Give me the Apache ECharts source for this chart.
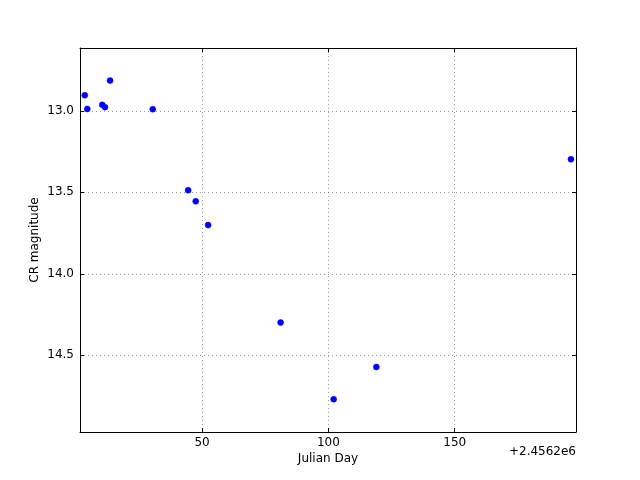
<!DOCTYPE html>
<html>
<head>
<meta charset="utf-8">
<script src="https://cdn.jsdelivr.net/npm/echarts@6/dist/echarts.min.js"></script>
<style>html,body{margin:0;padding:0;background:#fff}#c{width:640px;height:480px}</style>
</head>
<body>
<div id="c"></div>
<script>
// Julian Day offset from 2456200
const jd = [3.6, 4.6, 10.5, 11.6, 13.6, 30.5, 44.5, 47.5, 52.4, 81.1, 102.1, 119.0, 196.0];
const mag = [12.904, 12.988, 12.963, 12.977, 12.814, 12.990, 13.487, 13.555, 13.701, 14.299, 14.770, 14.572, 13.297];
const xTicks = [50, 100, 150];
const yTicks = [13.0, 13.5, 14.0, 14.5];
const xRange = [1.7, 198.0];
const yRange = [12.614, 14.971];

const font = 'DejaVu Sans';
const chart = echarts.init(document.getElementById('c'), null, {renderer: 'canvas'});
const axisLine = {show: true, onZero: false, lineStyle: {color: '#000', width: 1}};
const tick = (vals) => ({show: true, inside: true, length: 4, customValues: vals, lineStyle: {color: '#000', width: 1}});
const gridStyle = {color: '#000', width: 0.5, type: [1, 3], opacity: 0.8};

chart.setOption({
  animation: false,
  backgroundColor: '#fff',
  grid: {left: 80, right: 64, top: 48, bottom: 48, containLabel: false},
  xAxis: [
    {type: 'value', position: 'bottom', min: xRange[0], max: xRange[1],
     axisLine: axisLine, axisTick: tick(xTicks),
     axisLabel: {customValues: xTicks, color: '#000', fontSize: 12, fontFamily: font, margin: 5},
     splitLine: {show: false},
     name: 'Julian Day', nameLocation: 'middle', nameGap: 27, nameMoveOverlap: false,
     nameTextStyle: {color: '#000', fontSize: 12, fontFamily: font, verticalAlign: 'middle'}},
    {type: 'value', position: 'top', min: xRange[0], max: xRange[1],
     axisLine: axisLine, axisTick: tick(xTicks), axisLabel: {show: false}, splitLine: {show: false}}
  ],
  yAxis: [
    {type: 'value', position: 'left', inverse: true, min: yRange[0], max: yRange[1],
     axisLine: axisLine, axisTick: tick(yTicks),
     axisLabel: {customValues: yTicks, color: '#000', fontSize: 12, fontFamily: font, margin: 6,
                 formatter: v => v.toFixed(1)},
     splitLine: {show: false},
     name: 'CR magnitude', nameLocation: 'middle', nameGap: 45, nameRotate: 90, nameMoveOverlap: false,
     nameTextStyle: {color: '#000', fontSize: 12, fontFamily: font, verticalAlign: 'middle'}},
    {type: 'value', position: 'right', inverse: true, min: yRange[0], max: yRange[1],
     axisLine: axisLine, axisTick: tick(yTicks), axisLabel: {show: false}, splitLine: {show: false}}
  ],
  graphic: [
    {type: 'text', right: 64, top: 446,
     style: {text: '+2.4562e6', fill: '#000', fontSize: 12, fontFamily: font, textAlign: 'right'}}
  ],
  series: [{
    type: 'scatter',
    xAxisIndex: 0, yAxisIndex: 0,
    data: jd.map((x, i) => [x, mag[i]]),
    symbol: 'circle', symbolSize: 6,
    itemStyle: {color: '#0000ff', borderColor: '#0000ff', borderWidth: 0.5, opacity: 1},
    z: 5,
    markLine: {
      silent: true, symbol: 'none', label: {show: false}, z: 1,
      lineStyle: gridStyle,
      emphasis: {disabled: true},
      data: xTicks.map(v => ({xAxis: v})).concat(yTicks.map(v => ({yAxis: v})))
    }
  }]
});
</script>
</body>
</html>
